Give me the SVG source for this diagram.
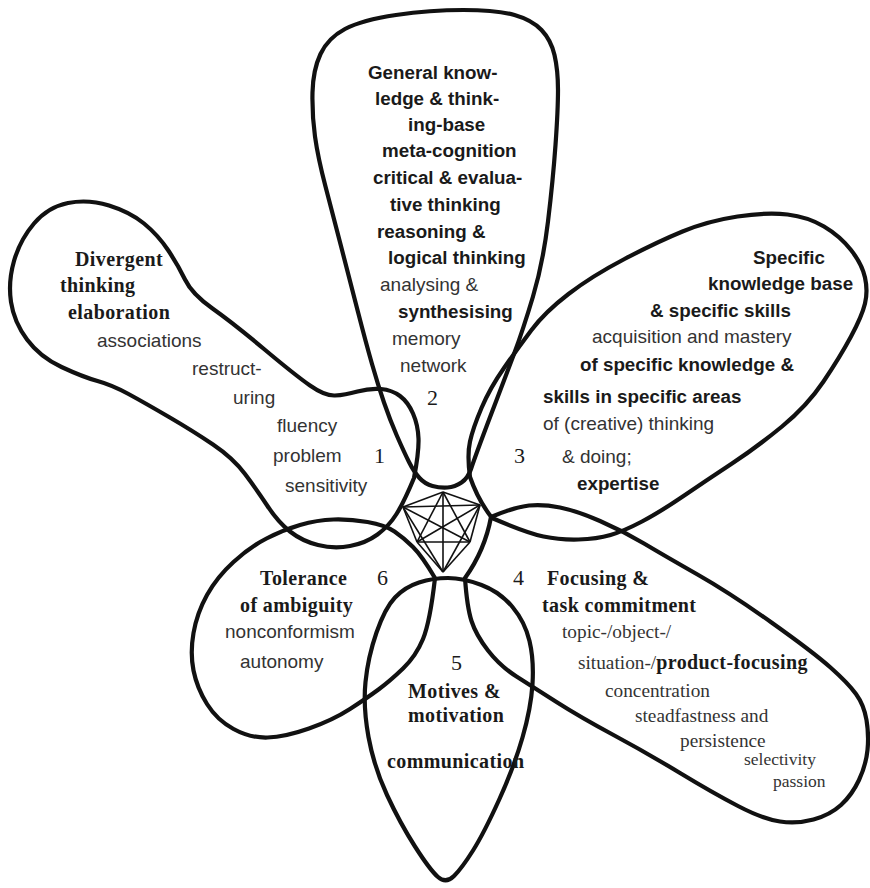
<svg xmlns="http://www.w3.org/2000/svg" width="870" height="888" viewBox="0 0 870 888">
<style>
.petal{fill:none;stroke:#111;stroke-width:4.2;stroke-linejoin:round;stroke-linecap:round}
.star line{stroke:#111;stroke-width:1.6}
.hs{font-family:"Liberation Sans",Arial,sans-serif;font-weight:bold;font-size:18.8px;fill:#1a1a1a}
.rs{font-family:"Liberation Sans",Arial,sans-serif;font-size:19px;fill:#333}
.bs{font-family:"Liberation Serif","Times New Roman",serif;font-weight:bold;font-size:20px;letter-spacing:0.4px;fill:#1a1a1a}
.rr{font-family:"Liberation Serif","Times New Roman",serif;font-size:19.3px;fill:#333}
.sm{font-size:17.5px}
.num{font-family:"Liberation Serif","Times New Roman",serif;font-size:22px;fill:#1a1a1a}
</style>
<rect width="870" height="888" fill="#fff"/>
<g id="petal1">
<path class="petal" d="M 414,478 Q 419,452 418.5,438.5 Q 418,425 413,413.5 Q 408,402 400,396 Q 392,390 381,389 Q 370,388 357.5,391.5 Q 345,395 335,395.5 Q 325,396 310,385.5 Q 295,375 264,349 Q 233,323 212.5,308.5 Q 192,294 185,279.5 Q 178,265 168,250 Q 158,235 144,223.5 Q 130,212 109,205.5 Q 88,199 68,203 Q 48,207 34,223.5 Q 20,240 14,261 Q 8,282 11,302 Q 14,322 27,339.5 Q 40,357 61.5,367 Q 83,377 97.5,381 Q 112,385 128.5,394 Q 145,403 169,417 Q 193,431 213,444.5 Q 233,458 245,474 Q 257,490 267.5,506 Q 278,522 290,531.5 Q 302,541 318,545 Q 334,549 350,546 Q 366,543 377.5,534.5 Q 389,526 396.5,514 Q 404,502 414,478 Z"/>
<text class="bs" x="75" y="266">Divergent</text>
<text class="bs" x="60" y="292">thinking</text>
<text class="bs" x="68" y="319">elaboration</text>
<text class="rs" x="97" y="347">associations</text>
<text class="rs" x="192" y="375">restruct-</text>
<text class="rs" x="233" y="404">uring</text>
<text class="rs" x="277" y="432">fluency</text>
<text class="rs" x="273" y="462">problem</text>
<text class="rs" x="285" y="492">sensitivity</text>
<text class="num" x="374" y="463">1</text>
</g>
<g id="petal2">
<path class="petal" d="M 409,462 Q 404,452 397,436 Q 390,420 384,402.5 Q 378,385 372,364 Q 366,343 358,312 Q 350,281 341.5,248 Q 333,215 325.5,186.5 Q 318,158 315,136.5 Q 312,115 312.5,92.5 Q 313,70 320.5,54 Q 328,38 345,29 Q 362,20 396,15 Q 430,10 463.5,10 Q 497,10 514.5,15 Q 532,20 541.5,30 Q 551,40 554.5,55 Q 558,70 558,90 Q 558,110 555.5,145 Q 553,180 548,221.5 Q 543,263 533,296.5 Q 523,330 514,354 Q 505,378 496,401.5 Q 487,425 480.5,442.5 Q 474,460 471,469 Q 468,478 461.5,482.5 Q 455,487 447.5,487.5 Q 440,488 432.5,486 Q 425,484 419.5,478 Q 414,472 409,462 Z"/>
<text class="hs" x="368" y="79">General know-</text>
<text class="hs" x="375" y="105">ledge &amp; think-</text>
<text class="hs" x="408" y="131">ing-base</text>
<text class="hs" x="382" y="157">meta-cognition</text>
<text class="hs" x="373" y="184">critical &amp; evalua-</text>
<text class="hs" x="390" y="211">tive thinking</text>
<text class="hs" x="377" y="238">reasoning &amp;</text>
<text class="hs" x="388" y="264">logical thinking</text>
<text class="rs" x="380" y="291">analysing &amp;</text>
<text class="hs" x="398" y="318">synthesising</text>
<text class="rs" x="392" y="345">memory</text>
<text class="rs" x="400" y="372">network</text>
<text class="num" x="427" y="405">2</text>
</g>
<g id="petal3">
<path class="petal" d="M 470,477 Q 467,455 470,441.5 Q 473,428 481.5,408 Q 490,388 504,368 Q 518,348 531.5,330 Q 545,312 568.5,294 Q 592,276 624.5,259 Q 657,242 682.5,231.5 Q 708,221 737.5,216.5 Q 767,212 787.5,214.5 Q 808,217 824,226.5 Q 840,236 851,250 Q 862,264 865,277.5 Q 868,291 865,303.5 Q 862,316 851,336.5 Q 840,357 823.5,381.5 Q 807,406 782,426.5 Q 757,447 732,463.5 Q 707,480 683.5,496 Q 660,512 642,521.5 Q 624,531 610.5,535 Q 597,539 578.5,539.5 Q 560,540 543.5,536.5 Q 527,533 492,518 Q 478,500 470,477 Z"/>
<text class="hs" x="753" y="264">Specific</text>
<text class="hs" x="708" y="290">knowledge base</text>
<text class="hs" x="650" y="317">&amp; specific skills</text>
<text class="rs" x="592" y="343">acquisition and mastery</text>
<text class="hs" x="580" y="371">of specific knowledge &amp;</text>
<text class="hs" x="543" y="403">skills in specific areas</text>
<text class="rs" x="543" y="430">of (creative) thinking</text>
<text class="num" x="514" y="463">3</text>
<text class="rs" x="562" y="463">&amp; doing;</text>
<text class="hs" x="577" y="490">expertise</text>
</g>
<g id="petal4">
<path class="petal" d="M 465,578 Q 485,550 491,517 Q 515,507 529,505.5 Q 543,504 560,507.5 Q 577,511 600,521 Q 623,531 644,543.5 Q 665,556 697.5,574.5 Q 730,593 771.5,622.5 Q 813,652 830.5,667.5 Q 848,683 856,694 Q 864,705 866.5,720 Q 869,735 867.5,750 Q 866,765 859,780 Q 852,795 841,805 Q 830,815 813.5,819.5 Q 797,824 780,821.5 Q 763,819 738,806 Q 713,793 680,773 Q 647,753 613.5,735 Q 580,717 556.5,702 Q 533,687 516.5,676.5 Q 500,666 488,650.5 Q 476,635 471.5,621 Q 467,607 465,578 Z"/>
<text class="num" x="513" y="585">4</text>
<text class="bs" x="547" y="585">Focusing &amp;</text>
<text class="bs" x="542" y="612">task commitment</text>
<text class="rr" x="562" y="638">topic-/object-/</text>
<text class="rr" x="578" y="669">situation-/<tspan class="bs">product-focusing</tspan></text>
<text class="rr" x="605" y="697">concentration</text>
<text class="rr" x="635" y="722">steadfastness and</text>
<text class="rr" x="680" y="747">persistence</text>
<text class="rr sm" x="744" y="765">selectivity</text>
<text class="rr sm" x="773" y="787">passion</text>
</g>
<g id="petal5">
<path class="petal" d="M 419,582.5 Q 433,578 448,578 Q 463,578 481.5,585 Q 500,592 512.5,607 Q 525,622 529.5,641 Q 534,660 532.5,684 Q 531,708 522.5,737.5 Q 514,767 499,800 Q 484,833 473,850.5 Q 462,868 454,876 Q 446,884 438,877 Q 430,870 415,846.5 Q 400,823 387,795 Q 374,767 368.5,737 Q 363,707 365.5,682 Q 368,657 376.5,632.5 Q 385,608 395,597.5 Q 405,587 419,582.5 Z"/>
<text class="num" x="451" y="670">5</text>
<text class="bs" x="408" y="698">Motives &amp;</text>
<text class="bs" x="408" y="722">motivation</text>
<text class="bs" x="387" y="768">communication</text>
</g>
<g id="petal6">
<path class="petal" d="M 435,578 Q 422,556 413,547 Q 404,538 394.5,531.5 Q 385,525 367.5,522 Q 350,519 333.5,519.5 Q 317,520 300,525 Q 283,530 266.5,538.5 Q 250,547 233.5,562 Q 217,577 207,595 Q 197,613 193.5,633 Q 190,653 193.5,670.5 Q 197,688 207,704 Q 217,720 233.5,729 Q 250,738 267.5,737.5 Q 285,737 309,728.5 Q 333,720 350,709 Q 367,698 378.5,689.5 Q 390,681 403,668.5 Q 416,656 423,639 Q 430,622 435,578 Z"/>
<text class="bs" x="260" y="585">Tolerance</text>
<text class="num" x="377" y="585">6</text>
<text class="bs" x="240" y="612">of ambiguity</text>
<text class="rs" x="225" y="638">nonconformism</text>
<text class="rs" x="240" y="668">autonomy</text>
</g>
<g id="connectors" class="star">
<line x1="443" y1="492" x2="403" y2="507"/>
<line x1="443" y1="492" x2="480" y2="505"/>
<line x1="443" y1="492" x2="417" y2="542"/>
<line x1="443" y1="492" x2="470" y2="542"/>
<line x1="443" y1="492" x2="443" y2="572"/>
<line x1="403" y1="507" x2="480" y2="505"/>
<line x1="403" y1="507" x2="417" y2="542"/>
<line x1="403" y1="507" x2="470" y2="542"/>
<line x1="403" y1="507" x2="443" y2="572"/>
<line x1="480" y1="505" x2="417" y2="542"/>
<line x1="480" y1="505" x2="470" y2="542"/>
<line x1="480" y1="505" x2="443" y2="572"/>
<line x1="417" y1="542" x2="470" y2="542"/>
<line x1="417" y1="542" x2="443" y2="572"/>
<line x1="470" y1="542" x2="443" y2="572"/>
</g>
</svg>
